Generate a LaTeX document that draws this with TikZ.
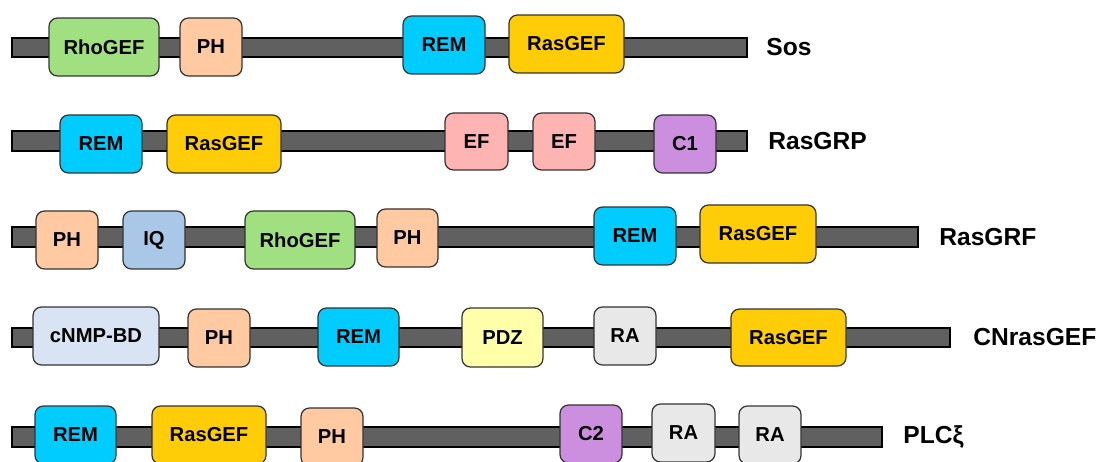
\documentclass[tikz,border=0pt]{standalone}
\usepackage{fontspec}
\setmainfont{Liberation Sans}
\definecolor{barc}{HTML}{606060}
\definecolor{cgreen}{HTML}{A0E080}
\definecolor{cpeach}{HTML}{FFC9A2}
\definecolor{ccyan}{HTML}{00CCFF}
\definecolor{cgold}{HTML}{FFCC08}
\definecolor{cpink}{HTML}{FFB4B4}
\definecolor{cviolet}{HTML}{CC8EDE}
\definecolor{cblue}{HTML}{A9C8E8}
\definecolor{clight}{HTML}{D8E3F4}
\definecolor{cyell}{HTML}{FFFFAA}
\definecolor{cgrey}{HTML}{E8E8E8}
\tikzset{
  bar/.style={draw=black,fill=barc,line width=0.6pt},
  dom/.style={draw=black!80,line width=0.7pt,rounded corners=0.17cm,inner sep=0pt,
    font=\bfseries\fontsize{11.5}{13}\selectfont},
  prot/.style={anchor=west,inner sep=0pt,font=\bfseries\fontsize{14}{16}\selectfont}
}
\newcommand\dom[7]{%
  \node[dom,fill=#6,minimum width={(#4-#2)*0.02cm},minimum height={(#5-#3)*0.02cm}]
    (#1) at ({(#2+#4)/2},{(#3+#5)/2}) {#7};}
\begin{document}
\begin{tikzpicture}[x=0.02cm,y=-0.02cm]
\useasboundingbox (0,0) rectangle (1101,462);
\clip (0,0) rectangle (1101,462);
% Row 1: Sos
\draw[bar] (12,38) rectangle (747,57);
\dom{a1}{49}{18}{159}{76}{cgreen}{RhoGEF}
\dom{a2}{180}{18}{242}{76}{cpeach}{PH}
\dom{a3}{403}{16}{485}{74}{ccyan}{REM}
\dom{a4}{509}{15}{624}{73}{cgold}{RasGEF}
\node[prot] (sos) at (766,47) {Sos};
% Row 2: RasGRP
\draw[bar] (12,131) rectangle (747,151);
\dom{b1}{60}{115}{142}{173}{ccyan}{REM}
\dom{b2}{167}{115}{281}{173}{cgold}{RasGEF}
\dom{b3}{445}{113}{508}{170}{cpink}{EF}
\dom{b4}{533}{113}{595}{170}{cpink}{EF}
\dom{b5}{654}{115}{716}{173}{cviolet}{C1}
\node[prot] (rasgrp) at (768,141) {RasGRP};
% Row 3: RasGRF
\draw[bar] (12,227) rectangle (918,247);
\dom{c1}{36}{211}{98}{269}{cpeach}{PH}
\dom{c2}{123}{211}{185}{269}{cblue}{IQ}
\dom{c3}{245}{211}{355}{269}{cgreen}{RhoGEF}
\dom{c4}{377}{209}{438}{267}{cpeach}{PH}
\dom{c5}{594}{207}{676}{265}{ccyan}{REM}
\dom{c6}{700}{205}{816}{263}{cgold}{RasGEF}
\node[prot] (rasgrf) at (939,237) {RasGRF};
% Row 4: CNrasGEF
\draw[bar] (12,328) rectangle (950,347);
\dom{d1}{33}{307}{159}{365}{clight}{cNMP-BD}
\dom{d2}{188}{309}{250}{367}{cpeach}{PH}
\dom{d3}{318}{308}{399}{366}{ccyan}{REM}
\dom{d4}{462}{308}{543}{367}{cyell}{PDZ}
\dom{d5}{594}{307}{656}{365}{cgrey}{RA}
\dom{d6}{731}{309}{846}{366}{cgold}{RasGEF}
\node[prot] (cnras) at (973,337) {CNrasGEF};
% Row 5: PLCxi
\draw[bar] (12,427) rectangle (882,447);
\dom{e1}{35}{406}{116}{464}{ccyan}{REM}
\dom{e2}{152}{406}{266}{464}{cgold}{RasGEF}
\dom{e3}{301}{408}{363}{466}{cpeach}{PH}
\dom{e4}{560}{405}{622}{463}{cviolet}{C2}
\dom{e5}{652}{404}{715}{462}{cgrey}{RA}
\dom{e6}{739}{406}{801}{464}{cgrey}{RA}
\node[prot] (plc) at (903,437) {PLCξ};
\end{tikzpicture}
\end{document}
